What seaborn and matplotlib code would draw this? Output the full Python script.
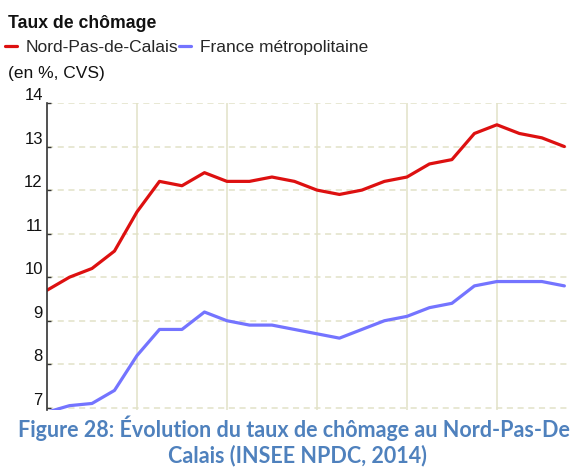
import pandas as pd
import seaborn as sns
import matplotlib.pyplot as plt
from matplotlib.lines import Line2D

# Données : taux de chômage trimestriel (en %, CVS)
trimestres = list(range(24))
nord_pas_de_calais = [9.7, 10.0, 10.2, 10.6, 11.5, 12.2, 12.1, 12.4, 12.2, 12.2, 12.3, 12.2,
                      12.0, 11.9, 12.0, 12.2, 12.3, 12.6, 12.7, 13.3, 13.5, 13.3, 13.2, 13.0]
france_metro = [6.9, 7.05, 7.1, 7.4, 8.2, 8.8, 8.8, 9.2, 9.0, 8.9, 8.9, 8.8,
                8.7, 8.6, 8.8, 9.0, 9.1, 9.3, 9.4, 9.8, 9.9, 9.9, 9.9, 9.8]
series = ['Nord-Pas-de-Calais', 'France métropolitaine']
y_ticks = [7, 8, 9, 10, 11, 12, 13, 14]

df = pd.DataFrame({
    'trimestre': trimestres * 2,
    'taux': nord_pas_de_calais + france_metro,
    'zone': [series[0]] * len(trimestres) + [series[1]] * len(trimestres),
})

sns.set_theme(style="white")
plt.rcParams['font.family'] = ['Liberation Sans', 'DejaVu Sans']

fig = plt.figure(figsize=(5.7, 4.68), dpi=100)
ax = fig.add_axes([47 / 570, 1 - 410 / 468, 523 / 570, 307 / 468])

sns.lineplot(data=df, x='trimestre', y='taux', hue='zone', ax=ax,
             palette={series[0]: '#dd1010', series[1]: '#7474ff'},
             linewidth=2.3, legend=False)

ax.set_xlim(0, 23.25)
ax.set_ylim(6.95, 14)
ax.set_yticks(y_ticks)
ax.set_yticklabels([str(v) for v in y_ticks], fontsize=12, color='#111111')
ax.set_xticks([])
ax.set_xlabel('')
ax.set_ylabel('')

# grille
grid_col = '#e2e2c8'
for v in y_ticks:
    ax.axhline(v, color=grid_col, lw=1.1, ls=(0, (4, 3)), zorder=0)
for t in [4, 8, 12, 16, 20]:
    ax.axvline(t, color=grid_col, lw=1.1, zorder=0)

for s in ['top', 'right', 'bottom']:
    ax.spines[s].set_visible(False)
ax.spines['left'].set_color('#333333')
ax.spines['left'].set_linewidth(1.2)
ax.tick_params(axis='y', direction='in', length=3, width=1, color='#333333', pad=3, left=True)
for lbl in ax.get_yticklabels():
    lbl.set_verticalalignment('bottom')

# titre et légende
fig.text(8 / 570, 1 - 28 / 468, 'Taux de chômage', fontsize=12.7, fontweight='bold',
         color='#111111', va='baseline')
fig.text(8 / 570, 1 - 78 / 468, '(en %, CVS)', fontsize=12.5, color='#111111', va='baseline')
handles = [Line2D([], [], color='#dd1010', lw=2.3), Line2D([], [], color='#7474ff', lw=2.3)]
fig.legend(handles, series, loc='center left', bbox_to_anchor=(0.0, 1 - 47 / 468),
           ncol=2, frameon=False, fontsize=12.5, handlelength=0.7, handletextpad=0.5,
           columnspacing=0.0, borderaxespad=0, borderpad=0.3)

# légende de figure (document)
cap_col = '#4f81bd'
fig.text(18 / 570, 1 - 437 / 468, 'Figure 28: Évolution du taux de chômage au Nord-Pas-De',
         fontsize=15.5, fontweight='bold', color=cap_col, ha='left', va='baseline',
         family=['Lato', 'DejaVu Sans'])
fig.text(297 / 570, 1 - 462 / 468, 'Calais (INSEE NPDC, 2014)',
         fontsize=15.5, fontweight='bold', color=cap_col, ha='center', va='baseline',
         family=['Lato', 'DejaVu Sans'])

plt.savefig('out.png', dpi=100)
